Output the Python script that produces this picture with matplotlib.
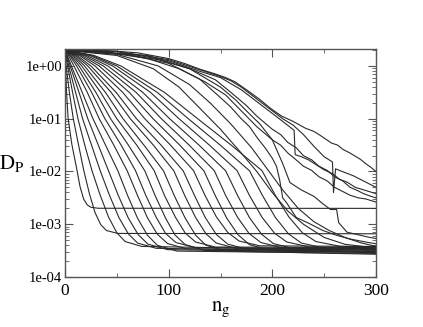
import matplotlib
matplotlib.use("Agg")
import matplotlib.pyplot as plt
import numpy as np
from matplotlib.ticker import LogLocator, FixedLocator, NullFormatter

plt.rcParams['font.family'] = ['Liberation Serif', 'DejaVu Serif']
plt.rcParams['mathtext.fontset'] = 'stix'

# ---- smooth, fast-decaying curves (n_g knots and D_P values) ----
fan_ng = [
    [0, 0.2, 0.5, 1.5, 3, 6.5, 11, 14.5, 18, 21.5, 25, 32, 300],
    [0, 0.3, 1.1, 4.2, 8, 13, 18, 23.5, 29, 34.5, 40, 51, 300],
    [0, 0.7, 2.5, 7.3, 12.5, 19, 26, 34, 42, 50, 58, 74, 300],
    [0, 1.2, 3.6, 10.2, 17, 25.5, 34, 43, 52, 61, 70, 88, 300],
    [0, 1.7, 5, 13.5, 22, 32, 42, 51.5, 61, 70.5, 80, 99, 300],
    [0, 2.1, 6.2, 16.6, 27, 39, 51, 60.5, 70, 79.5, 89, 108, 300],
    [0, 3.3, 8.6, 21.5, 33, 47, 60, 70, 79.5, 89, 99, 118, 300],
    [0, 4.5, 11.3, 25.7, 38.5, 54, 68, 78, 88, 97, 107, 126, 300],
    [0, 5.6, 13.6, 29.8, 44, 61, 77, 87, 97, 106, 116, 135, 300],
    [0, 7, 16.2, 34.4, 50, 69, 86, 96, 106.5, 116, 126, 145, 300],
    [0, 8.4, 18.9, 39, 56, 76, 95, 105.5, 116, 126, 136, 155, 300],
    [0, 10, 22, 44.5, 63, 85, 105, 115.5, 126, 136, 146, 165, 300],
    [0, 11.7, 25, 49.3, 69, 92.5, 114, 125, 135.5, 146, 157, 177, 300],
    [0, 14, 29, 55.7, 77, 101.5, 124, 135, 146, 157, 168, 188, 300],
    [0, 16, 33, 62, 85, 110.5, 134, 145, 156, 167, 178, 198, 300],
    [0, 18.6, 37, 68.6, 93, 119.5, 144, 155, 166.5, 177.5, 189, 209, 300],
    [0, 21, 41.4, 75, 101, 129, 155, 166.5, 178, 189.5, 201, 222, 300],
    [0, 24, 46, 82.5, 110, 139, 166, 178, 190, 202, 214, 236, 300],
    [0, 26, 50, 89, 119, 149.5, 178, 190.5, 203, 215.5, 228, 251, 300],
    [0, 28, 54, 96, 128, 160, 190, 203, 216, 229, 242, 266, 300],
]
fan_dp = [
    [2.0, 1.585, 1.0, 0.318, 0.102, 0.0336, 0.012, 0.00516, 0.003, 0.00232, 0.0021, 0.00201, 0.002],
    [2.0, 1.585, 1.0, 0.317, 0.1, 0.0323, 0.0107, 0.00382, 0.00166, 0.00098, 0.00076, 0.00067, 0.00066],
    [2.0, 1.585, 1.0, 0.316, 0.1, 0.032, 0.0104, 0.00353, 0.00137, 0.00069, 0.00047, 0.00038, 0.00032],
    [2.0, 1.585, 1.0, 0.316, 0.1, 0.032, 0.0103, 0.0035, 0.00134, 0.00066, 0.00044, 0.00035, 0.0003],
    [2.0, 1.585, 1.0, 0.316, 0.1, 0.032, 0.0103, 0.00348, 0.00132, 0.00064, 0.00042, 0.00033, 0.00029],
    [2.0, 1.585, 1.0, 0.316, 0.1, 0.0319, 0.0103, 0.00346, 0.0013, 0.00062, 0.0004, 0.00031, 0.00028],
    [2.0, 1.585, 1.0, 0.316, 0.1, 0.0319, 0.0103, 0.0035, 0.00133, 0.00065, 0.00043, 0.00034, 0.00033],
    [2.0, 1.585, 1.0, 0.316, 0.1, 0.032, 0.0104, 0.0035, 0.00135, 0.00067, 0.00045, 0.00036, 0.00034],
    [2.0, 1.585, 1.0, 0.316, 0.1, 0.0319, 0.0103, 0.00347, 0.00131, 0.00063, 0.00041, 0.00032, 0.0003],
    [2.0, 1.585, 1.0, 0.316, 0.1, 0.032, 0.0104, 0.0035, 0.00136, 0.00068, 0.00046, 0.00037, 0.00036],
    [2.0, 1.585, 1.0, 0.316, 0.1, 0.0319, 0.0103, 0.00346, 0.0013, 0.00062, 0.0004, 0.00031, 0.00027],
    [2.0, 1.585, 1.0, 0.316, 0.1, 0.032, 0.0103, 0.0035, 0.00134, 0.00066, 0.00044, 0.00035, 0.00034],
    [2.0, 1.585, 1.0, 0.316, 0.1, 0.0319, 0.0103, 0.00348, 0.00132, 0.00064, 0.00042, 0.00033, 0.00031],
    [2.0, 1.585, 1.0, 0.316, 0.1, 0.032, 0.0104, 0.00354, 0.00138, 0.0007, 0.00048, 0.00039, 0.00038],
    [2.0, 1.585, 1.0, 0.316, 0.1, 0.0319, 0.0103, 0.00347, 0.00131, 0.00063, 0.00041, 0.00032, 0.0003],
    [2.0, 1.585, 1.0, 0.316, 0.1, 0.032, 0.0104, 0.0035, 0.00135, 0.00067, 0.00045, 0.00036, 0.00035],
    [2.0, 1.585, 1.0, 0.316, 0.1, 0.032, 0.0103, 0.0035, 0.00133, 0.00065, 0.00043, 0.00034, 0.00033],
    [2.0, 1.585, 1.0, 0.316, 0.1, 0.032, 0.0104, 0.0035, 0.00136, 0.00068, 0.00046, 0.00037, 0.00036],
    [2.0, 1.585, 1.0, 0.316, 0.1, 0.032, 0.0103, 0.0035, 0.00134, 0.00066, 0.00044, 0.00035, 0.00034],
    [2.0, 1.585, 1.0, 0.316, 0.1, 0.032, 0.0104, 0.0035, 0.00137, 0.00069, 0.00047, 0.00038, 0.00037],
]

# ---- slow, noisy curves (n_g knots and log10 D_P values) ----
slow_ng = [
    [0, 40, 70, 100, 115, 130, 145, 155, 164, 175, 187, 198, 209, 220, 232, 240, 245, 251, 257, 263, 268, 274, 280, 285, 290, 295, 300],
    [0, 50, 100, 130, 150, 160, 170, 180, 190, 200, 210, 220, 230, 240, 250, 258, 259, 261, 270, 278, 285, 292, 300],
    [0, 50, 100, 130, 150, 170, 190, 200, 210, 221, 222, 228, 235, 243, 250, 258, 265, 272, 280, 290, 300],
    [0, 40, 90, 120, 145, 160, 175, 185, 200, 208, 215, 223, 230, 238, 245, 253, 260, 268, 275, 282, 288, 295, 300],
    [0, 40, 80, 110, 135, 155, 170, 185, 200, 208, 215, 223, 230, 238, 245, 253, 260, 268, 275, 283, 290, 300],
    [0, 60, 100, 130, 150, 160, 170, 178, 185, 193, 200, 204, 207, 210, 214, 223, 236, 249, 262, 275, 291, 300],
    [0, 80, 120, 150, 165, 175, 188, 200, 210, 217, 228, 240, 248, 256, 262, 264, 272, 283, 294, 300],
    [0, 50, 90, 120, 140, 160, 180, 195, 210, 225, 240, 255, 270, 285, 300],
    [0, 50, 85, 110, 130, 150, 170, 185, 200, 215, 230, 250, 270, 300],
]
slow_log10_dp = [
    [0.30, 0.29, 0.25, 0.14, 0.05, -0.06, -0.15, -0.22, -0.30, -0.45, -0.62, -0.80, -0.95, -1.05, -1.18, -1.24, -1.30, -1.38, -1.46, -1.50, -1.58, -1.64, -1.71, -1.77, -1.85, -1.92, -2.00],
    [0.30, 0.28, 0.12, -0.07, -0.20, -0.28, -0.40, -0.55, -0.70, -0.85, -1.00, -1.12, -1.30, -1.52, -1.72, -1.82, -2.40, -1.95, -2.02, -2.08, -2.15, -2.22, -2.30],
    [0.30, 0.27, 0.10, -0.10, -0.22, -0.45, -0.75, -0.90, -1.05, -1.22, -1.68, -1.72, -1.78, -1.88, -1.97, -2.04, -2.15, -2.20, -2.30, -2.36, -2.42],
    [0.30, 0.27, 0.12, -0.05, -0.26, -0.50, -0.75, -0.95, -1.20, -1.30, -1.45, -1.55, -1.70, -1.78, -1.90, -1.98, -2.10, -2.18, -2.30, -2.36, -2.42, -2.47, -2.50],
    [0.30, 0.26, 0.14, -0.05, -0.30, -0.55, -0.85, -1.15, -1.40, -1.50, -1.65, -1.78, -1.90, -1.98, -2.10, -2.18, -2.30, -2.38, -2.45, -2.50, -2.52, -2.58],
    [0.30, 0.22, 0.05, -0.25, -0.60, -0.78, -1.00, -1.15, -1.35, -1.55, -1.75, -1.90, -2.15, -2.50, -2.60, -2.87, -2.99, -3.12, -3.21, -3.28, -3.34, -3.37],
    [0.30, 0.20, -0.05, -0.40, -0.65, -0.85, -1.10, -1.40, -1.85, -2.21, -2.35, -2.47, -2.60, -2.72, -2.72, -2.97, -3.15, -3.20, -3.25, -3.27],
    [0.30, 0.22, 0.00, -0.35, -0.70, -1.10, -1.55, -1.95, -2.35, -2.70, -2.95, -3.12, -3.25, -3.35, -3.42],
    [0.30, 0.20, -0.05, -0.40, -0.80, -1.20, -1.65, -2.00, -2.40, -2.75, -3.00, -3.25, -3.38, -3.45],
]

x_ticks = [0, 100, 200, 300]
y_ticks = [1e-4, 1e-3, 1e-2, 1e-1, 1e0]
y_ticklabels = ["1e-04", "1e-03", "1e-02", "1e-01", "1e+00"]

fig = plt.figure(figsize=(4.23, 3.27), dpi=100)
ax = fig.add_axes([65/423, 1-277/327, 311/423, 228/327])

line_kw = dict(color='#2a2a2a', lw=0.8)
for xs, ys in zip(fan_ng, fan_dp):
    ax.plot(xs, ys, **line_kw)
for xs, ls in zip(slow_ng, slow_log10_dp):
    ax.plot(xs, 10 ** np.asarray(ls), **line_kw)

ax.set_yscale('log')
ax.set_xlim(0, 300)
ax.set_ylim(1e-4, 2.1)
ax.set_xticks(x_ticks)
ax.set_xticklabels([str(t) for t in x_ticks], fontsize=12.5)
ax.xaxis.set_minor_locator(FixedLocator([50, 150, 250]))
ax.set_yticks(y_ticks)
ax.set_yticklabels(y_ticklabels, fontsize=10.5)
ax.yaxis.set_minor_locator(LogLocator(base=10, subs=np.arange(2, 10)))
ax.yaxis.set_minor_formatter(NullFormatter())

ax.tick_params(which='both', direction='in', top=True, right=True, color='#555555')
ax.tick_params(which='major', length=6, width=0.8)
ax.tick_params(which='minor', length=3, width=0.6)
ax.tick_params(axis='x', which='major', pad=4)
ax.tick_params(axis='y', which='major', pad=2)
for s in ax.spines.values():
    s.set_color('#555555')
    s.set_linewidth(1.0)

ax.set_xlabel(r'$\mathrm{n_g}$', fontsize=15, labelpad=1)
ax.set_ylabel(r'$\mathrm{D_P}$', fontsize=15, rotation=0, va='center', ha='center')
ax.yaxis.set_label_coords(-0.17, 0.5)

fig.savefig('out.png', dpi=100)
